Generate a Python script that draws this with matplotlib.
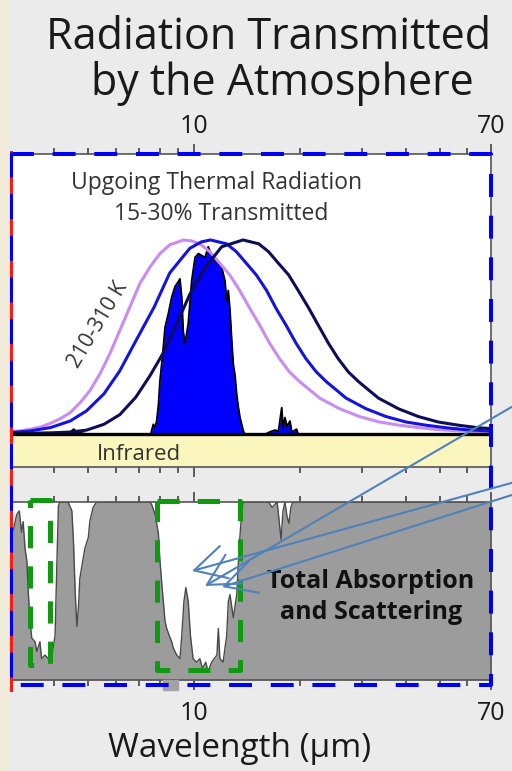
import matplotlib
matplotlib.use("Agg")
import matplotlib.pyplot as plt
from matplotlib.lines import Line2D
from matplotlib.patches import Rectangle, FancyArrowPatch
from matplotlib.ticker import FixedLocator, FixedFormatter, NullFormatter

plt.rcParams['font.family'] = ['Open Sans', 'DejaVu Sans']
plt.rcParams['lines.scale_dashes'] = False

W, H = 512, 771

# wavelength axis (micrometres, log scale)
x_min, x_max = 3.02, 70.0
major_ticks = [10, 70]
minor_ticks = [4, 5, 6, 7, 8, 9, 20, 30, 40, 50, 60]

# blackbody curves, normalised to their peak (310 K, 260 K, 210 K)
wl_310 = [3.02, 3.20, 3.42, 3.66, 3.91, 4.18, 4.45, 4.74, 5.06, 5.41,
          5.77, 6.16, 6.58, 7.02, 7.50, 8.01, 8.54, 9.35, 9.85, 10.4,
          11.1, 11.85, 12.65, 13.5, 14.4, 15.4, 16.4, 17.5, 18.7, 20.0,
          22.8, 26.0, 29.6, 33.7, 38.6, 44.0, 50.1, 57.1, 65.1, 70.0]
bb_310 = [0.010, 0.016, 0.024, 0.036, 0.055, 0.080, 0.110, 0.160, 0.223, 0.311,
          0.414, 0.534, 0.655, 0.775, 0.860, 0.930, 0.975, 1.0, 0.995, 0.98,
          0.94, 0.88, 0.82, 0.74, 0.65, 0.56, 0.47, 0.39, 0.32, 0.27,
          0.185, 0.13, 0.09, 0.062, 0.045, 0.032, 0.022, 0.016, 0.012, 0.010]

wl_260 = [3.02, 3.42, 3.91, 4.45, 4.95, 5.55, 6.16, 6.84, 7.71, 8.54,
          9.74, 10.5, 11.15, 12.4, 13.2, 14.1, 15.05, 16.1, 17.1, 18.3,
          19.5, 20.8, 22.3, 23.8, 27.1, 30.9, 35.2, 40.1, 45.9, 52.4,
          59.6, 70.0]
bb_260 = [0.008, 0.016, 0.033, 0.067, 0.119, 0.207, 0.326, 0.48, 0.654, 0.83,
          0.957, 0.99, 1.0, 0.98, 0.94, 0.88, 0.82, 0.74, 0.65, 0.56,
          0.47, 0.39, 0.32, 0.27, 0.185, 0.13, 0.09, 0.062, 0.045, 0.032,
          0.022, 0.015]

wl_210 = [3.02, 3.91, 4.45, 4.95, 5.55, 6.16, 6.84, 7.50, 8.20, 8.90,
          9.74, 10.8, 12.0, 13.8, 15.3, 16.3, 17.4, 18.6, 19.8, 21.2,
          22.6, 24.1, 25.7, 27.5, 29.4, 33.5, 38.2, 43.5, 49.5, 56.7,
          64.7, 70.0]
bb_210 = [0.003, 0.006, 0.01, 0.02, 0.05, 0.10, 0.19, 0.30, 0.42, 0.56,
          0.72, 0.86, 0.965, 1.0, 0.98, 0.94, 0.88, 0.82, 0.74, 0.65,
          0.56, 0.47, 0.39, 0.32, 0.27, 0.185, 0.13, 0.09, 0.062, 0.045,
          0.032, 0.028]

# upgoing thermal radiation that gets through
wl_trans = [3.02, 4.30, 4.45, 4.55, 4.65, 4.80, 4.95,
            7.55, 7.59, 7.67, 7.76, 7.84, 7.93, 8.01, 8.10, 8.19, 8.28,
            8.46, 8.65, 8.84, 9.03, 9.13, 9.24, 9.33, 9.44, 9.64, 9.86,
            10.08, 10.30, 10.53, 10.76, 10.99, 11.24, 11.49, 11.74, 12.00, 12.26,
            12.40, 12.53, 12.67, 12.82, 12.95, 13.10, 13.24, 13.38, 13.53, 13.83,
            13.98,
            16.0, 16.4, 17.0, 17.4, 17.78, 17.95, 18.16, 18.4, 18.77, 19.0,
            19.6, 19.8, 70.0]
trans = [0, 0, 0.010, 0.025, 0.012, 0.005, 0,
         0, 0.020, 0.050, 0.035, 0.068, 0.150, 0.275, 0.36, 0.450, 0.550,
         0.620, 0.705, 0.760, 0.785, 0.800, 0.705, 0.530, 0.465, 0.570, 0.790,
         0.910, 0.930, 0.920, 0.910, 0.965, 0.920, 0.895, 0.880, 0.860, 0.790,
         0.690, 0.740, 0.640, 0.480, 0.360, 0.30, 0.205, 0.14, 0.085, 0.015,
         0,
         0, 0.010, 0.020, 0.015, 0.136, 0.030, 0.085, 0.040, 0.067, 0.010,
         0.025, 0, 0]

# total absorption and scattering (fraction, 0-1)
wl_abs = [3.02, 3.08, 3.135, 3.188, 3.237, 3.27, 3.31, 3.35, 3.385, 3.42,
          3.46, 3.535, 3.575, 3.65, 3.69, 3.77, 3.86, 3.95, 4.03, 4.08,
          4.12, 4.17, 4.39, 4.50, 4.55, 4.60, 4.65, 4.70, 4.74, 4.83,
          4.90, 5.01, 5.06, 5.17, 5.29, 7.50, 7.59, 7.76, 7.93, 8.01,
          8.10, 8.19, 8.28, 8.37, 8.51, 8.65, 8.74, 8.94, 9.13, 9.24,
          9.37, 9.49, 9.64, 9.78, 9.95, 10.18, 10.40, 10.58, 10.81, 10.98,
          11.24, 11.42, 11.63, 11.74, 11.86, 12.11, 12.40, 12.53, 12.67, 12.95,
          13.24, 13.47, 13.69, 13.83, 16.3, 16.7, 17.25, 17.47, 17.7, 17.93,
          18.16, 18.4, 18.64, 18.88, 19.12, 70.0]
absorb = [0.80, 0.86, 0.93, 0.95, 0.83, 0.89, 0.74, 0.67, 0.48, 0.33,
          0.235, 0.215, 0.16, 0.215, 0.12, 0.14, 0.12, 0.14, 0.25, 0.67,
          0.98, 1.0, 1.0, 0.95, 0.76, 0.48, 0.30, 0.42, 0.57, 0.67,
          0.74, 0.80, 0.89, 0.97, 1.0, 1.0, 0.985, 0.93, 0.82, 0.67,
          0.55, 0.44, 0.33, 0.29, 0.25, 0.215, 0.18, 0.14, 0.12, 0.25,
          0.44, 0.52, 0.44, 0.25, 0.12, 0.10, 0.12, 0.065, 0.10, 0.047,
          0.10, 0.12, 0.14, 0.29, 0.12, 0.10, 0.25, 0.44, 0.48, 0.35,
          0.48, 0.76, 0.95, 1.0, 1.0, 0.97, 1.0, 0.90, 0.79, 0.95,
          1.0, 0.92, 0.88, 0.97, 1.0, 1.0]


def fx(px):
    return px / W


def fy(py):
    return 1 - py / H


fig = plt.figure(figsize=(W / 100, H / 100), dpi=100, facecolor='#ebebeb')
fig.add_artist(Rectangle((0, 0), fx(8), 1, transform=fig.transFigure,
                         color='#f1ebd9', zorder=0))

ax_top = fig.add_axes([fx(11), fy(467), 480 / W, 313 / H])
ax_bot = fig.add_axes([fx(11), fy(680), 480 / W, 178 / H])

for ax in (ax_top, ax_bot):
    ax.set_xscale('log')
    ax.set_xlim(x_min, x_max)
    ax.xaxis.set_major_locator(FixedLocator(major_ticks))
    ax.xaxis.set_major_formatter(FixedFormatter([str(t) for t in major_ticks]))
    ax.xaxis.set_minor_locator(FixedLocator(minor_ticks))
    ax.xaxis.set_minor_formatter(NullFormatter())
    ax.tick_params(axis='x', which='both', direction='out', top=True, bottom=True,
                   color='#444444', width=1.2, labelcolor='#1a1a1a', labelsize=18)
    ax.tick_params(axis='x', which='major', length=7)
    ax.tick_params(axis='x', which='minor', length=4)
    for sp in ax.spines.values():
        sp.set_color('#555555')
        sp.set_linewidth(1.2)

# top panel: thermal emission
ax_top.set_ylim(-0.170, 1.443)
ax_top.set_yticks([])
ax_top.tick_params(axis='x', which='both', labeltop=True, labelbottom=False, pad=4)
ax_top.axhspan(-0.170, 0, color='#fbf6bd', zorder=1)
ax_top.fill_between(wl_trans, 0, trans, color='#0000ff', lw=0, zorder=2)
ax_top.plot(wl_trans, trans, color='black', lw=1.3, zorder=3)
ax_top.plot(wl_310, bb_310, color='#c98cf2', lw=2.2, zorder=4)
ax_top.plot(wl_260, bb_260, color='#1414e0', lw=2.2, zorder=4)
ax_top.plot(wl_210, bb_210, color='#0e0e58', lw=2.2, zorder=4)
ax_top.axhline(0, color='black', lw=2.4, zorder=5)

# bottom panel: absorption
ax_bot.set_ylim(0, 1)
ax_bot.set_yticks([0.25, 0.5, 0.75])
ax_bot.tick_params(axis='y', left=False, right=True, labelleft=False,
                   direction='in', length=4, color='#444444', width=1.2)
ax_bot.tick_params(axis='x', which='both', labeltop=False, labelbottom=True, pad=8)
ax_bot.fill_between(wl_abs, 0, absorb, color='#9c9c9c', lw=0, zorder=2)
ax_bot.plot(wl_abs, absorb, color='#4a4a4a', lw=1.0, zorder=3)

# texts
txt = '#333333'
fig.text(fx(269), fy(49), 'Radiation Transmitted', ha='center', va='baseline',
         fontsize=31, color='#1a1a1a')
fig.text(fx(282), fy(95), 'by the Atmosphere', ha='center', va='baseline',
         fontsize=31, color='#1a1a1a')
fig.text(fx(217), fy(189), 'Upgoing Thermal Radiation', ha='center', va='baseline',
         fontsize=16.5, color=txt)
fig.text(fx(221), fy(220), '15-30% Transmitted', ha='center', va='baseline',
         fontsize=16.5, color=txt)
fig.text(fx(98), fy(325), '210-310 K', ha='center', va='center', rotation=59,
         rotation_mode='anchor', fontsize=15, color=txt)
fig.text(fx(139), fy(460), 'Infrared', ha='center', va='baseline',
         fontsize=16, color=txt)
fig.text(fx(371), fy(588), 'Total Absorption', ha='center', va='baseline',
         fontsize=18, fontweight='bold', color='#111111')
fig.text(fx(371), fy(619), 'and Scattering', ha='center', va='baseline',
         fontsize=18, fontweight='bold', color='#111111')
fig.text(fx(240), fy(757), 'Wavelength (µm)', ha='center', va='baseline',
         fontsize=24, color='#1a1a1a')

# stray grey block under the lower panel
fig.add_artist(Rectangle((fx(163), fy(690)), 15 / W, 10 / H,
                         transform=fig.transFigure, color='#a3a3a3', zorder=5))

# green dashed boxes around the windows
green = '#129912'
for x0, x1, y0, y1 in [(30, 50, 500, 665), (157, 240, 501, 670)]:
    fig.add_artist(Line2D([fx(x0), fx(x1), fx(x1), fx(x0), fx(x0)],
                          [fy(y0), fy(y0), fy(y1), fy(y1), fy(y0)],
                          transform=fig.transFigure, color=green, lw=3.6,
                          dashes=(16, 13), zorder=6))

# blue dashed outline
blue = '#0000f0'
dash = (16.5, 13.5)
fig.add_artist(Line2D([fx(11), fx(491), fx(491), fx(11)],
                      [fy(154), fy(154), fy(685), fy(685)],
                      transform=fig.transFigure, color=blue, lw=2.9,
                      dashes=dash, zorder=7))
fig.add_artist(Line2D([fx(10.5), fx(10.5)], [fy(152), fy(690)],
                      transform=fig.transFigure, color='#ff1a1a', lw=2.2, zorder=7))
fig.add_artist(Line2D([fx(10.5), fx(10.5)], [fy(152), fy(690)],
                      transform=fig.transFigure, color=blue, lw=2.2,
                      dashes=(18, 12), zorder=8))

# arrows pointing into the 8-13 micron window
arrow_col = '#4f81bd'
for (xa, ya), (xb, yb) in [((515, 405), (205, 586)),
                           ((515, 482), (192, 571)),
                           ((515, 494), (222, 587))]:
    fig.add_artist(FancyArrowPatch((fx(xa), fy(ya)), (fx(xb), fy(yb)),
                                   transform=fig.transFigure,
                                   arrowstyle='->,head_length=0.75,head_width=0.4',
                                   mutation_scale=30, color=arrow_col, lw=1.5,
                                   shrinkA=0, shrinkB=0, zorder=9))

fig.savefig('out.png', dpi=100, facecolor=fig.get_facecolor())
